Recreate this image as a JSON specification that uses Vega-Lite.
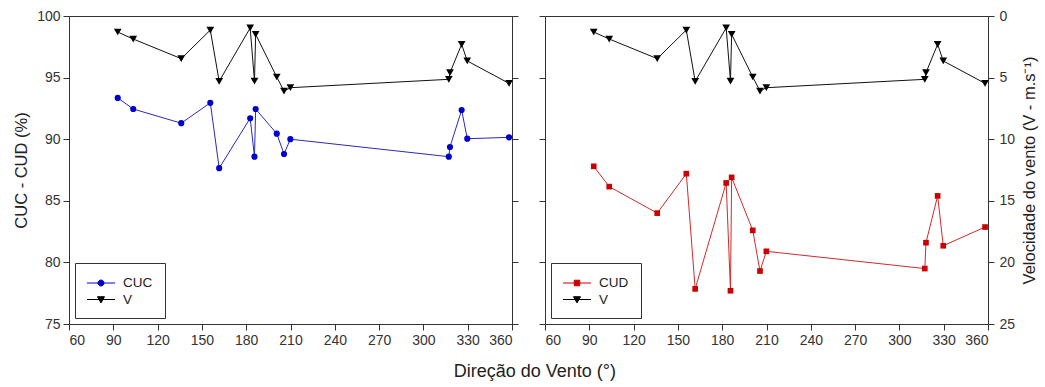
{
  "$schema": "https://vega.github.io/schema/vega-lite/v6.json",
  "padding": {"left": 13, "top": 8, "right": 2, "bottom": 4},
  "background": "white",
  "config": {
    "font": "Liberation Sans",
    "view": {"stroke": "#333", "strokeWidth": 1},
    "axis": {"grid": false, "domainColor": "#333", "tickColor": "#333", "tickSize": 6, "labelFontSize": 14, "labelColor": "#333", "titleFontSize": 16.5, "titleFontWeight": "normal", "titleColor": "#222", "labelPadding": 3},
    "legend": {"title": null, "orient": "bottom-left", "offset": 6, "padding": 12, "strokeColor": "#333", "fillColor": "white", "symbolSize": 225, "symbolOffset": 6, "labelOffset": 14, "labelFontSize": 13.5, "labelColor": "#222", "rowPadding": 1.5, "symbolOpacity": 1, "symbolStrokeWidth": 1}
  },
  "title": {"text": "Direção do Vento (°)", "orient": "bottom", "anchor": "middle", "fontSize": 18, "fontWeight": "normal", "color": "#222", "offset": 15, "dx": 9},
  "datasets": {
    "d": [
      {"dir": 93.0, "CUC": 93.35, "CUD": 87.8, "V": 1.3},
      {"dir": 103.5, "CUC": 92.45, "CUD": 86.15, "V": 1.87},
      {"dir": 136.0, "CUC": 91.3, "CUD": 84.0, "V": 3.46},
      {"dir": 155.7, "CUC": 92.95, "CUD": 87.2, "V": 1.14},
      {"dir": 161.7, "CUC": 87.65, "CUD": 77.85, "V": 5.3},
      {"dir": 182.7, "CUC": 91.7, "CUD": 86.45, "V": 0.97},
      {"dir": 185.6, "CUC": 88.58, "CUD": 77.7, "V": 5.28},
      {"dir": 186.4, "CUC": 92.45, "CUD": 86.9, "V": 1.49},
      {"dir": 200.7, "CUC": 90.45, "CUD": 82.6, "V": 4.95},
      {"dir": 205.6, "CUC": 88.8, "CUD": 79.3, "V": 6.09},
      {"dir": 209.9, "CUC": 90.0, "CUD": 80.9, "V": 5.82},
      {"dir": 317.2, "CUC": 88.58, "CUD": 79.5, "V": 5.14},
      {"dir": 318.0, "CUC": 89.37, "CUD": 81.6, "V": 4.6},
      {"dir": 325.9, "CUC": 92.37, "CUD": 85.4, "V": 2.3},
      {"dir": 329.7, "CUC": 90.04, "CUD": 81.35, "V": 3.65},
      {"dir": 358.0, "CUC": 90.15, "CUD": 82.87, "V": 5.47}
    ]
  },
  "spacing": 19,
  "resolve": {"scale": {"fill": "independent", "stroke": "independent", "shape": "independent", "y": "independent"}, "legend": {"fill": "independent", "stroke": "independent", "shape": "independent"}},
  "hconcat": [
    {
      "width": 443, "height": 308,
      "data": {"name": "d"},
      "transform": [{"fold": ["CUC", "V"], "as": ["s", "val"]}],
      "encoding": {
        "x": {"field": "dir", "type": "quantitative", "sort": null, "scale": {"domain": [60, 360], "nice": false, "zero": false}, "axis": {"values": [60, 90, 120, 150, 180, 210, 240, 270, 300, 330, 360], "title": null}}
      },
      "layer": [
        {
          "transform": [{"filter": "datum.s === 'CUC'"}],
          "encoding": {"y": {"field": "val", "type": "quantitative", "scale": {"domain": [75, 100], "nice": false, "zero": false}, "axis": {"orient": "left", "values": [75, 80, 85, 90, 95, 100], "title": "CUC - CUD (%)", "titlePadding": 7}}},
          "layer": [
            {"mark": {"type": "line", "strokeWidth": 1, "color": "#2a2ab8"}},
            {"mark": {"type": "point", "shape": "circle", "filled": true, "size": 38, "opacity": 1, "color": "#0000cc"}},
            {"mark": {"type": "point", "filled": true, "opacity": 0},
              "encoding": {
                "fill": {"field": "s", "type": "nominal", "scale": {"domain": ["CUC", "V"], "range": ["#0000cc", "#000000"]}},
                "stroke": {"field": "s", "type": "nominal", "scale": {"domain": ["CUC", "V"], "range": ["#0000cc", "#000000"]}},
                "shape": {"field": "s", "type": "nominal", "scale": {"domain": ["CUC", "V"], "range": ["M-1.87,0H1.87M0.4,0A0.4,0.4,0,1,1,-0.4,0A0.4,0.4,0,1,1,0.4,0Z", "M-1.87,0H1.87M-0.47,-0.37L0.47,-0.37L0,0.45Z"]}}
              }}
          ]
        },
        {
          "transform": [{"filter": "datum.s === 'V'"}],
          "encoding": {"y": {"field": "val", "type": "quantitative", "scale": {"domain": [0, 25], "nice": false, "reverse": true}, "axis": {"orient": "right", "values": [0, 5, 10, 15, 20, 25], "labels": false, "title": null}}},
          "layer": [
            {"mark": {"type": "line", "strokeWidth": 1, "color": "#111"}},
            {"mark": {"type": "point", "shape": "triangle-down", "filled": true, "size": 60, "opacity": 1, "color": "#000"}}
          ]
        }
      ],
      "resolve": {"scale": {"y": "independent"}}
    },
    {
      "width": 443, "height": 308,
      "data": {"name": "d"},
      "transform": [{"fold": ["CUD", "V"], "as": ["s", "val"]}],
      "encoding": {
        "x": {"field": "dir", "type": "quantitative", "sort": null, "scale": {"domain": [60, 360], "nice": false, "zero": false}, "axis": {"values": [60, 90, 120, 150, 180, 210, 240, 270, 300, 330, 360], "title": null}}
      },
      "layer": [
        {
          "transform": [{"filter": "datum.s === 'CUD'"}],
          "encoding": {"y": {"field": "val", "type": "quantitative", "scale": {"domain": [75, 100], "nice": false, "zero": false}, "axis": {"orient": "left", "values": [75, 80, 85, 90, 95, 100], "labels": false, "title": null}}},
          "layer": [
            {"mark": {"type": "line", "strokeWidth": 1, "color": "#d02a2a"}},
            {"mark": {"type": "point", "shape": "square", "filled": true, "size": 32, "opacity": 1, "color": "#cc0000"}},
            {"mark": {"type": "point", "filled": true, "opacity": 0},
              "encoding": {
                "fill": {"field": "s", "type": "nominal", "scale": {"domain": ["CUD", "V"], "range": ["#cc0000", "#000000"]}},
                "stroke": {"field": "s", "type": "nominal", "scale": {"domain": ["CUD", "V"], "range": ["#cc0000", "#000000"]}},
                "shape": {"field": "s", "type": "nominal", "scale": {"domain": ["CUD", "V"], "range": ["M-1.87,0H1.87M-0.37,-0.37H0.37V0.37H-0.37Z", "M-1.87,0H1.87M-0.47,-0.37L0.47,-0.37L0,0.45Z"]}}
              }}
          ]
        },
        {
          "transform": [{"filter": "datum.s === 'V'"}],
          "encoding": {"y": {"field": "val", "type": "quantitative", "scale": {"domain": [0, 25], "nice": false, "reverse": true}, "axis": {"orient": "right", "values": [0, 5, 10, 15, 20, 25], "title": "Velocidade do vento (V - m.s⁻¹)", "titleAngle": 270, "titleBaseline": "top", "labelPadding": 5, "titlePadding": 7}}},
          "layer": [
            {"mark": {"type": "line", "strokeWidth": 1, "color": "#111"}},
            {"mark": {"type": "point", "shape": "triangle-down", "filled": true, "size": 60, "opacity": 1, "color": "#000"}}
          ]
        }
      ],
      "resolve": {"scale": {"y": "independent"}}
    }
  ]
}
